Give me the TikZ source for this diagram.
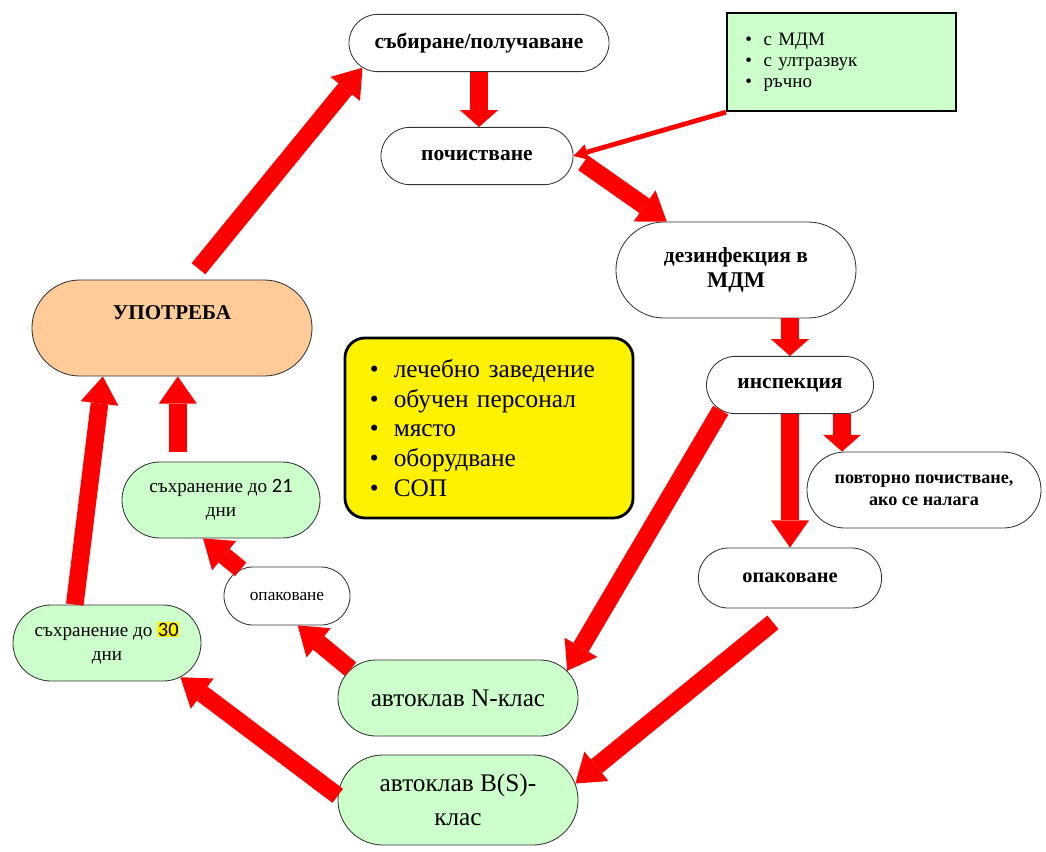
\documentclass[tikz,border=0pt]{standalone}
\usepackage{fontspec}
\setmainfont{Liberation Serif}
\newfontfamily\digitfont{Carlito}
\usetikzlibrary{arrows.meta}
\usetikzlibrary{shapes.misc}
\usetikzlibrary{positioning}
\definecolor{mintgreen}{HTML}{CCFFCC}
\definecolor{peach}{HTML}{FFCC99}
\newcommand\fsz[2]{\fontsize{#1pt}{#2pt}\selectfont}
\newcommand\itm{\textbullet\hspace{0.6em}}
\newcommand\hl[1]{{\setlength{\fboxsep}{0.5pt}\colorbox{yellow}{\digitfont #1}}}
\tikzset{
semithick, % All lines semithick
stage/.style={draw=black!80,semithick,rounded rectangle,align=center,inner sep=1mm},
bold stage/.style={stage,font=\bfseries\fsz{15.3}{18}},
green stage/.style={stage,fill=mintgreen,font=\fsz{13.6}{17}},
big stage/.style={green stage,font=\fsz{18}{24}},
flow/.style={color=red,line width=0.44cm,
  -{Triangle[length=0.68cm,width=0.95cm,line width=0pt]}},
short flow/.style={color=red,line width=0.44cm,
  -{Triangle[length=0.42cm,width=0.95cm,line width=0pt]}},
thin flow/.style={color=red,line width=0.12cm,
  -{Triangle[length=0.35cm,width=0.4cm,line width=0pt]}}
}

\begin{document}
\begin{tikzpicture}[x=0.025cm,y=-0.025cm]
\useasboundingbox (0,0) rectangle (1046,851);

% main loop
\node[bold stage,minimum width=6.7cm,minimum height=1.43cm] (sbor) at (479,43) {събиране/получаване};
\node[bold stage,minimum width=5cm,minimum height=1.43cm] (chist) at (477,156) {почистване};
\node[bold stage,minimum width=6.2cm,minimum height=2.4cm] (dez) at (736,270)
  {дезинфекция в\\{\fsz{16}{19}МДМ}};
\node[bold stage,minimum width=4.375cm,minimum height=1.43cm] (insp) at (790,385) {инспекция};
\node[bold stage,font=\bfseries\fsz{12.9}{15.5},minimum width=6.05cm,minimum height=1.9cm] (povt) at (924,490)
  {повторно почистване,\\ако се налага};
\node[bold stage,font=\bfseries\fsz{14.5}{17},minimum width=4.78cm,minimum height=1.5cm] (opakR) at (790,578) {опаковане};
\node[bold stage,fill=peach,font=\bfseries\fsz{15}{17},text depth=0.75cm,minimum width=7.2cm,minimum height=2.4cm] (upo) at (172,328) {УПОТРЕБА};

% storage branch
\node[green stage,minimum width=5.15cm,minimum height=1.9cm] (sh21) at (221,500) {съхранение до {\digitfont\fsz{14.5}{17}21}\\дни};
\node[stage,font=\fsz{12.3}{15},minimum width=3.35cm,minimum height=1.45cm] (opakL) at (287,596) {опаковане};
\node[green stage,minimum width=4.9cm,minimum height=1.9cm] (sh30) at (107,643) {съхранение до \hl{\fsz{14.5}{17}30}\\дни};
\node[big stage,minimum width=6.2cm,minimum height=1.9cm] (avN) at (458,698) {автоклав N-клас};
\node[big stage,minimum width=6.2cm,minimum height=2.25cm] (avB) at (458,800) {автоклав B(S)-\\клас};

% boxes
\node[draw,line width=1.5pt,fill=mintgreen,anchor=north west,minimum width=5.72cm,minimum height=2.45cm,
  inner xsep=0.45cm,text width=4.8cm,align=left,font=\fsz{13.5}{15}] (metodi) at (726,12)
  {\itm с МДМ\\\itm с ултразвук\\\itm ръчно};
\node[draw,line width=2pt,fill=yellow,rounded corners=0.5cm,minimum width=7.2cm,minimum height=4.5cm,
  inner xsep=0.62cm,text width=5.96cm,align=left,font=\fsz{18}{21}] (usl) at (489,428)
  {\itm лечебно заведение\\\itm обучен персонал\\\itm място\\\itm оборудване\\\itm СОП};

\path[flow]
  (upo.70) edge[shorten <=0.35cm] (sbor.192)
  (chist.east) edge[shorten <=0.3cm] (dez.145)
  (insp.south) edge (insp.south |- opakR.north)
  (insp.200) edge (avN.14)
  (opakR.south) edge[shorten <=0.55cm] (avB.8)
  (avN.165) edge (opakL.-70)
  (opakL.150) edge (sh21.-115)
  ([xshift=-1.08cm]sh21.north) edge[shorten <=0.25cm] ([xshift=-1.08cm]sh21.north |- upo.south)
  (sh30.130) edge (upo.-145)
  (avB.178) edge (sh30.-25);
\path[short flow]
  (sbor.south) edge (sbor.south |- chist.north)
  (insp.north |- dez.south) edge (insp.north)
  ([xshift=1.3cm]insp.south) edge ([xshift=1.3cm]insp.south |- povt.north);
\path[thin flow] (metodi.south west) edge (chist.east);
\end{tikzpicture}
\end{document}
